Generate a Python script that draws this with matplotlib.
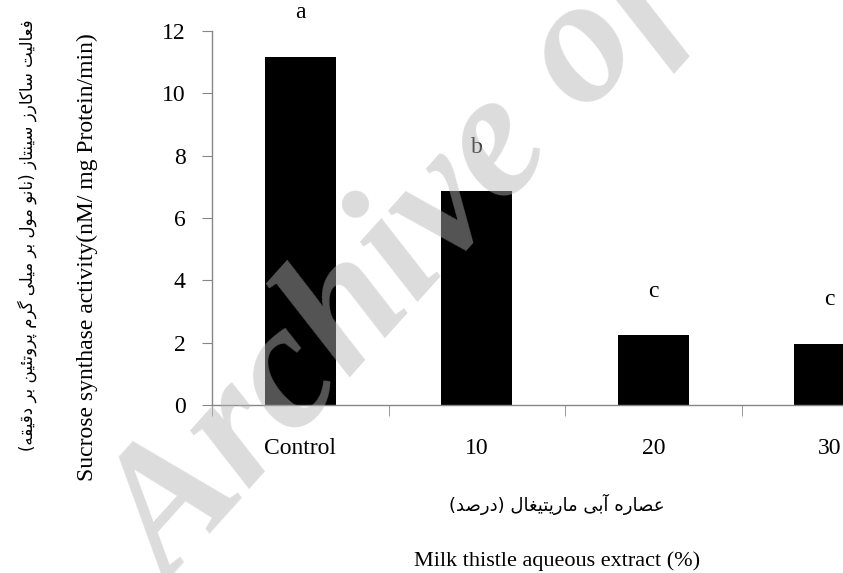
import matplotlib
matplotlib.use("Agg")
import matplotlib.pyplot as plt

# data
categories = ["Control", "10", "20", "30"]
activity = [11.18, 6.87, 2.23, 1.97]
letters = ["a", "b", "c", "c"]

ylabel_en = "Sucrose synthase activity(nM/ mg Protein/min)"
ylabel_fa = "فعالیت ساکارز سینتاز (نانو مول بر میلی گرم پروتئین بر دقیقه)"
xlabel_en = "Milk thistle aqueous extract (%)"
xlabel_fa = "عصاره آبی ماریتیغال (درصد)"

# simple Persian shaping (matplotlib has no bidi/joining)
FORMS = {
    'ا': (0xFE8D, 2), 'آ': (0xFE81, 2), 'د': (0xFEA9, 2), 'ذ': (0xFEAB, 2),
    'ر': (0xFEAD, 2), 'ز': (0xFEAF, 2), 'و': (0xFEED, 2), 'ژ': (0xFB8A, 2),
    'ب': (0xFE8F, 4), 'پ': (0xFB56, 4), 'ت': (0xFE95, 4), 'س': (0xFEB1, 4),
    'ص': (0xFEB9, 4), 'ع': (0xFEC9, 4), 'غ': (0xFECD, 4), 'ف': (0xFED1, 4),
    'ق': (0xFED5, 4), 'ک': (0xFB8E, 4), 'گ': (0xFB92, 4), 'ل': (0xFEDD, 4),
    'م': (0xFEE1, 4), 'ن': (0xFEE5, 4), 'ه': (0xFEE9, 4), 'ی': (0xFBFC, 4),
    'ئ': (0xFE89, 4),
}


def shape(s):
    out = []
    for i, ch in enumerate(s):
        if ch not in FORMS:
            out.append(ch)
            continue
        base, n = FORMS[ch]
        prev = s[i - 1] if i > 0 else ''
        nxt = s[i + 1] if i + 1 < len(s) else ''
        jp = prev in FORMS and FORMS[prev][1] == 4
        jn = n == 4 and nxt in FORMS
        out.append(chr(base + (1 if jp else 0) + (2 if jn else 0)))
    mirror = {'(': ')', ')': '('}
    return ''.join(mirror.get(c, c) for c in reversed(out))


plt.rcParams['font.family'] = ['Liberation Serif', 'DejaVu Sans']
grey = '#868686'

fig = plt.figure(figsize=(8.43, 5.73), dpi=100)
ax = fig.add_axes([0.2515, 0.2932, 0.7485, 0.6527])

x = range(len(categories))
ax.bar(x, activity, width=0.4, color='black')
for i, (v, l) in enumerate(zip(activity, letters)):
    ax.text(i, v + 1.4, l, ha='center', va='center', fontsize=17)

ax.set_xlim(-0.5, 3.075)
ax.set_ylim(0, 12)
ax.set_yticks(range(0, 13, 2))
ax.set_xticks(list(x))
ax.set_xticklabels(categories)
ax.set_xticks([-0.5, 0.5, 1.5, 2.5], minor=True)
ax.tick_params(axis='x', which='major', length=0, pad=24, labelsize=17, colors='black')
ax.tick_params(axis='x', which='minor', length=8, color=grey)
ax.tick_params(axis='y', length=7, color=grey, pad=12, labelsize=17)

for s in ['top', 'right']:
    ax.spines[s].set_visible(False)
for s in ['left', 'bottom']:
    ax.spines[s].set_color(grey)
    ax.spines[s].set_linewidth(1)

fig.text(0.104, 0.5515, ylabel_en, rotation=90, ha='center', va='center', fontsize=17)
fig.text(0.032, 0.59, shape(ylabel_fa), rotation=90, ha='center', va='center',
         fontsize=12, family=['DejaVu Sans'])
fig.text(0.661, 0.12, shape(xlabel_fa), ha='center', va='center',
         fontsize=13, family=['DejaVu Sans'])
fig.text(0.661, 0.021, xlabel_en, ha='center', va='center', fontsize=16)

# watermark
fig.text(0.202, -0.026, "Archive of SID", rotation=48, rotation_mode='anchor',
         ha='left', va='baseline', fontsize=130, fontweight='bold', fontstyle='italic',
         color='#b5b5b5', alpha=0.47, zorder=10)

fig.savefig("out.png", dpi=100)
